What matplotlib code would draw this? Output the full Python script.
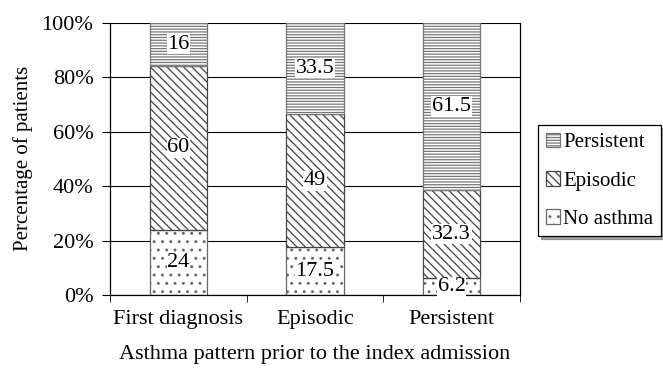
import matplotlib.pyplot as plt
import numpy as np

plt.rcParams['font.family'] = ['Liberation Serif', 'DejaVu Serif']
plt.rcParams['hatch.linewidth'] = 0.9

categories = ["First diagnosis", "Episodic", "Persistent"]
no_asthma = [24, 17.5, 6.2]
episodic = [60, 49, 32.3]
persistent = [16, 33.5, 61.5]

series = [("No asthma", no_asthma, "..", "#666666"),
          ("Episodic", episodic, "\\\\\\\\", "#444444"),
          ("Persistent", persistent, "------", "#777777")]

fig = plt.figure(figsize=(6.63, 3.69), dpi=100)
ax = fig.add_axes([0.166, 0.2, 0.618, 0.739])

x = np.arange(len(categories))
bottom = np.zeros(len(categories))
handles = []
for name, vals, hatch, col in series:
    vals = np.array(vals)
    b = ax.bar(x, vals, 0.42, bottom=bottom, color="white", edgecolor=col,
               hatch=hatch, linewidth=0.9, zorder=2, label=name)
    handles.append(b)
    for xi, v, b0 in zip(x, vals, bottom):
        ax.text(xi, b0 + v / 2, f"{v:g}", ha="center", va="center", fontsize=16,
                zorder=4, bbox=dict(facecolor="white", edgecolor="none", pad=0.5))
    bottom += vals

ax.set_xlim(-0.5, 2.5)
ax.set_ylim(0, 100)
ax.set_yticks(np.arange(0, 101, 20))
ax.set_yticklabels([f"{v}%" for v in range(0, 101, 20)], fontsize=16)
ax.yaxis.grid(True, color="black", linewidth=0.8, zorder=0)
ax.set_axisbelow(True)
ax.set_xticks(x)
ax.set_xticklabels(categories, fontsize=16)
ax.tick_params(axis="x", length=0, pad=11)
ax.set_xticks([-0.5, 0.5, 1.5, 2.5], minor=True)
ax.tick_params(axis="x", which="minor", length=5, direction="out")
ax.tick_params(axis="y", length=6, pad=6)
ax.spines["top"].set_visible(False)
for s in ["left", "right", "bottom"]:
    ax.spines[s].set_linewidth(0.9)

ax.set_ylabel("Percentage of patients", fontsize=15, labelpad=6)
ax.set_xlabel("Asthma pattern prior to the index admission", fontsize=16, labelpad=11)

leg = fig.legend(handles[::-1], ["Persistent", "Episodic", "No asthma"],
                 loc="center left", bbox_to_anchor=(0.812, 0.51), fontsize=15,
                 frameon=True, fancybox=False, shadow=True, edgecolor="black",
                 handlelength=0.7, handleheight=0.7, handletextpad=0.15,
                 labelspacing=0.9, borderpad=0.35, borderaxespad=0)
leg.get_frame().set_linewidth(0.9)

fig.savefig("out.png", dpi=100)
